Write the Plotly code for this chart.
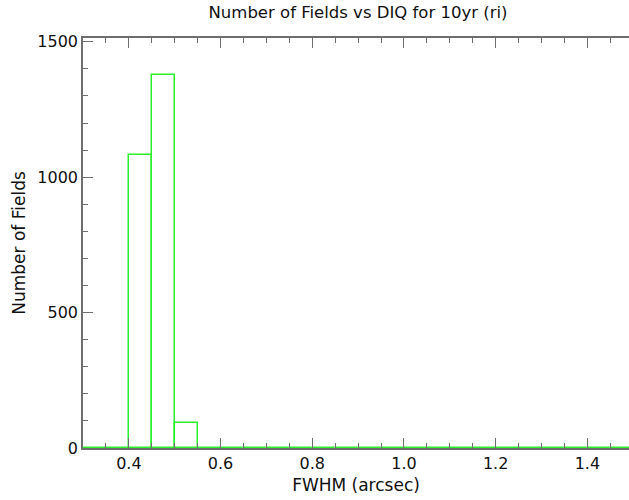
import plotly.graph_objects as go

# Histogram of delivered image quality (FWHM) per field, 0.05" bins
bin_edges = [0.30, 0.35, 0.40, 0.45, 0.50, 0.55, 0.60, 0.65, 0.70, 0.75,
             0.80, 0.85, 0.90, 0.95, 1.00, 1.05, 1.10, 1.15, 1.20, 1.25,
             1.30, 1.35, 1.40, 1.45, 1.50]
fields_per_bin = [0, 0, 1081, 1377, 92, 0, 0, 0, 0, 0,
                  0, 0, 0, 0, 0, 0, 0, 0, 0, 0,
                  0, 0, 0, 0]

title_text = "Number of Fields vs DIQ for 10yr (ri)"
x_title = "FWHM (arcsec)"
y_title = "Number of Fields"
y_ticks = [0, 500, 1000, 1500]

bin_centers = [(a + b) / 2 for a, b in zip(bin_edges[:-1], bin_edges[1:])]
bin_widths = [b - a for a, b in zip(bin_edges[:-1], bin_edges[1:])]

FONT = "DejaVu Sans"
AXIS_COLOR = "#6e6e6e"
EDGE_GREEN = "#2cf02c"

fig = go.Figure()
fig.add_trace(go.Bar(
    x=bin_centers,
    y=fields_per_bin,
    width=bin_widths,
    marker=dict(color="rgba(0,0,0,0)", line=dict(color=EDGE_GREEN, width=1.5)),
    showlegend=False,
    hoverinfo="skip",
))

common_y = dict(
    range=[0, 1514],
    tickvals=y_ticks,
    ticks="inside",
    ticklen=10,
    tickwidth=1.2,
    tickcolor=AXIS_COLOR,
    minor=dict(dtick=100, ticks="inside", ticklen=5, tickwidth=1.2, tickcolor=AXIS_COLOR),
    showgrid=False,
    zeroline=False,
)

fig.update_layout(
    width=629,
    height=500,
    margin=dict(l=83, r=0, t=38, b=52),
    paper_bgcolor="white",
    plot_bgcolor="white",
    font=dict(family=FONT, size=16, color="#111111"),
    title=dict(text=title_text, x=0.5037, xref="paper", xanchor="center",
               y=0.975, yref="container", yanchor="middle",
               font=dict(family=FONT, size=16.5, color="#111111")),
    xaxis=dict(
        range=[0.3, 1.4908],
        tick0=0.0, dtick=0.2,
        tickformat=".1f",
        ticks="inside", ticklen=10, tickwidth=1.2, tickcolor=AXIS_COLOR,
        minor=dict(dtick=0.05, ticks="inside", ticklen=5, tickwidth=1.2, tickcolor=AXIS_COLOR),
        showline=True, linecolor=AXIS_COLOR, linewidth=1.5,
        mirror="ticks",
        showgrid=False, zeroline=False,
        title=dict(text=x_title, standoff=7, font=dict(family=FONT, size=17)),
        tickfont=dict(family=FONT, size=16),
    ),
    yaxis=dict(
        **common_y,
        tickformat="d",
        showline=True, linecolor=AXIS_COLOR, linewidth=1.5,
        title=dict(text=y_title, standoff=7, font=dict(family=FONT, size=17)),
        tickfont=dict(family=FONT, size=16),
    ),
    yaxis2=dict(
        **common_y,
        overlaying="y",
        side="right",
        showline=False,
        showticklabels=False,
    ),
    bargap=0,
)

fig.write_html("out.html")
